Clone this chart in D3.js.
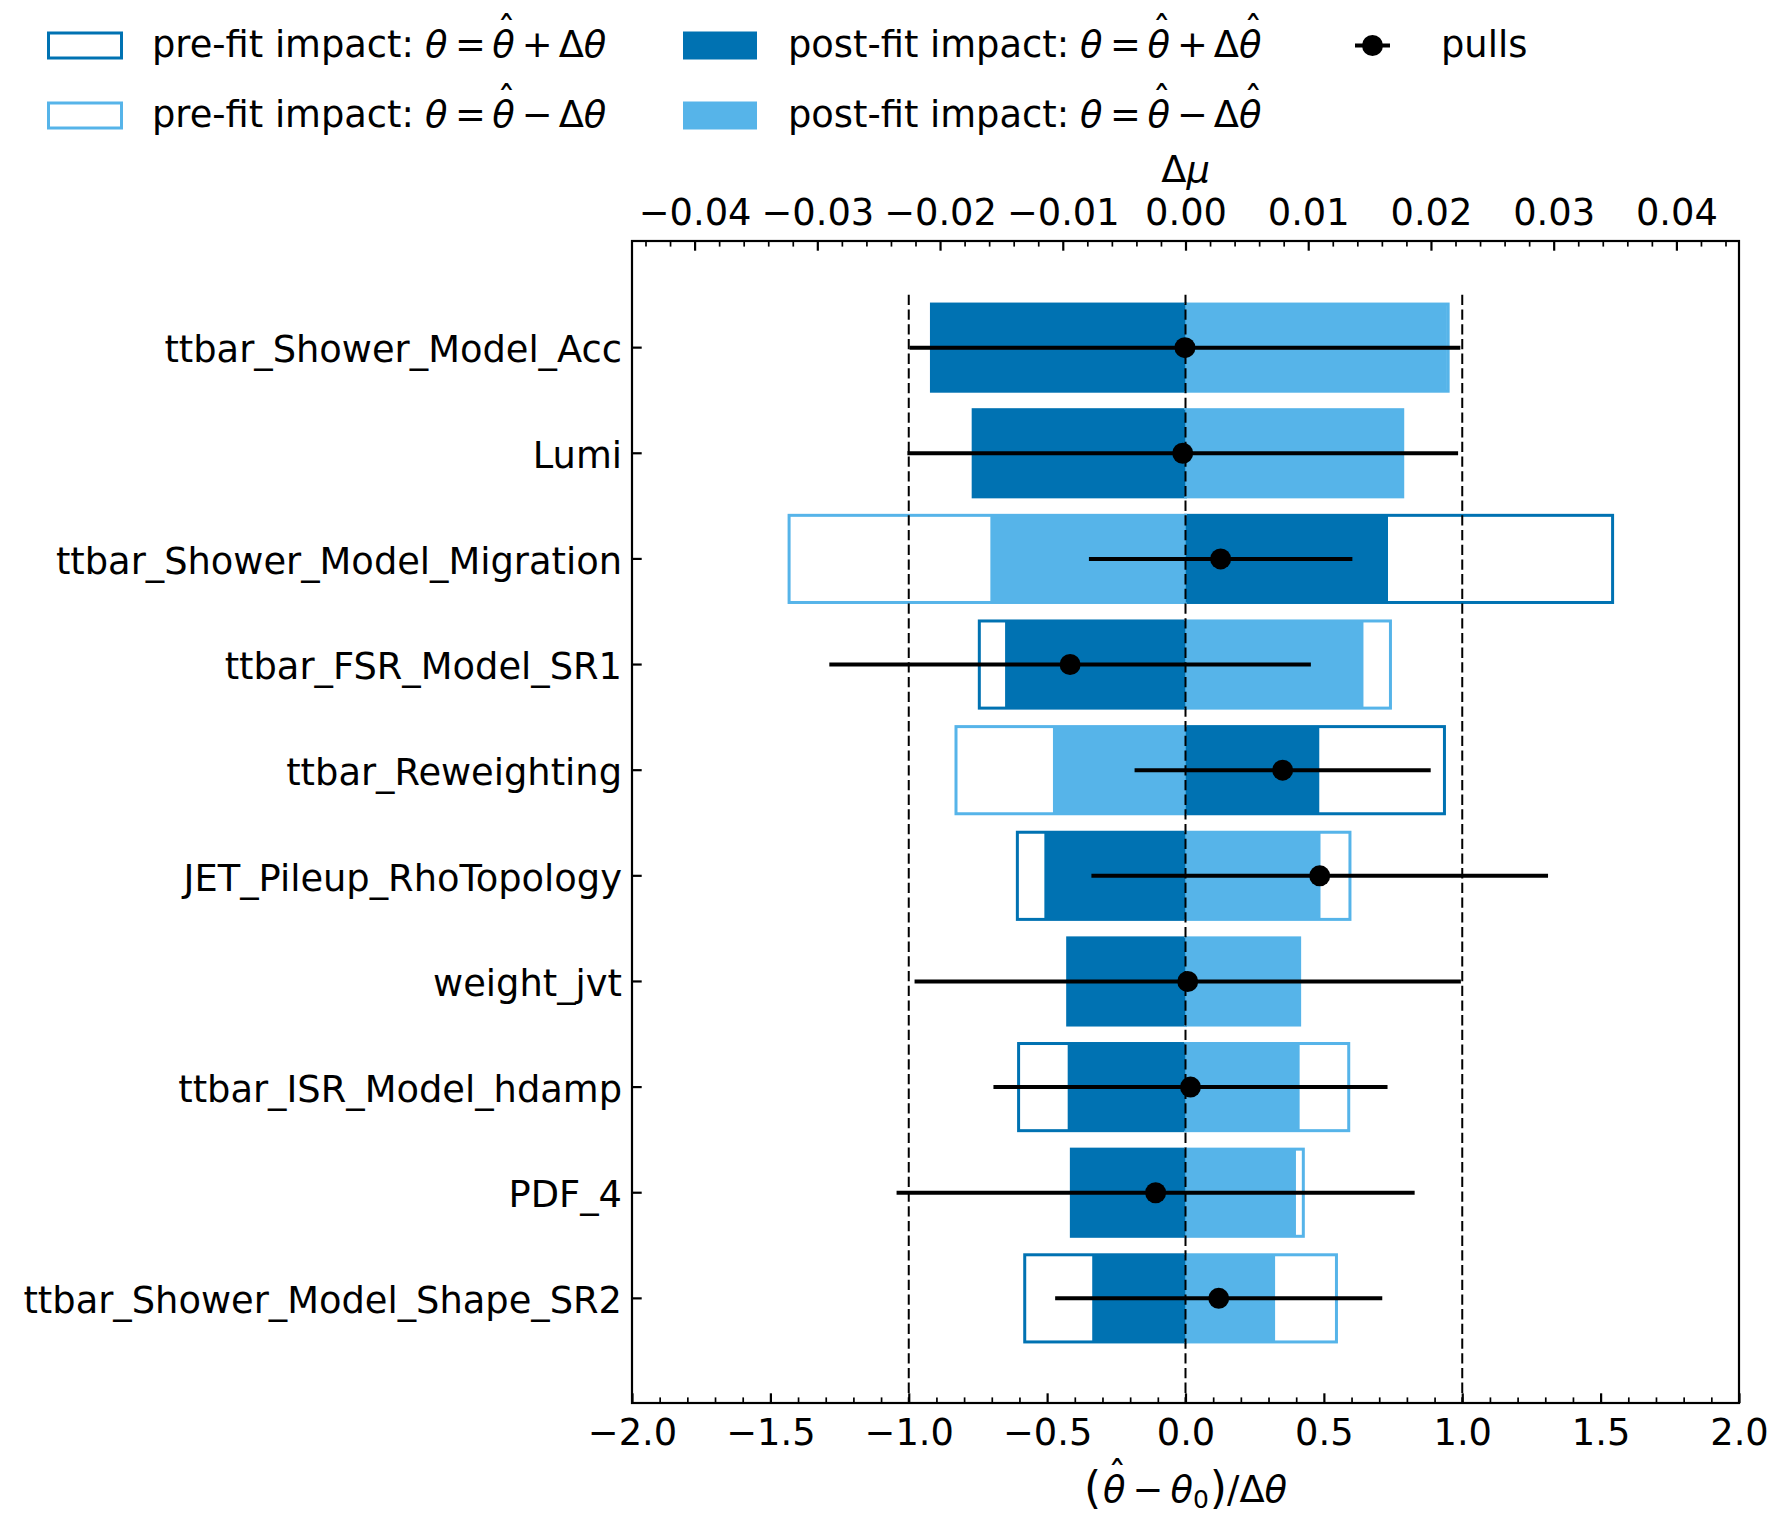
<!DOCTYPE html>
<html>
<head>
<meta charset="utf-8">
<script src="https://cdn.jsdelivr.net/npm/d3@7"></script>
<style>
  html, body { margin: 0; padding: 0; background: #fff; }
  svg { display: block; font-family: "DejaVu Sans", sans-serif; }
  text { fill: #000; }
</style>
</head>
<body>
<svg id="chart" width="1773" height="1513"></svg>
<script>
// Nuisance parameters, ranked top to bottom
const parameters = [
  "ttbar_Shower_Model_Acc",
  "Lumi",
  "ttbar_Shower_Model_Migration",
  "ttbar_FSR_Model_SR1",
  "ttbar_Reweighting",
  "JET_Pileup_RhoTopology",
  "weight_jvt",
  "ttbar_ISR_Model_hdamp",
  "PDF_4",
  "ttbar_Shower_Model_Shape_SR2"
];

// Pulls (theta_hat - theta_0)/dtheta and their post-fit constraints
const pulls      = [-0.002, -0.010, 0.127, -0.417, 0.351, 0.485, 0.008, 0.018, -0.108, 0.120];
const pullErrors = [0.995, 0.995, 0.476, 0.870, 0.535, 0.825, 0.987, 0.712, 0.936, 0.591];

// Impact on mu, pre-fit (theta = theta_hat +/- dtheta)
const prefitUp   = [-0.0207, -0.0173, 0.0348, -0.0168, 0.0211, -0.0137, -0.0096, -0.0136, -0.0093, -0.0131];
const prefitDown = [ 0.0214,  0.0177, -0.0323, 0.0167, -0.0187, 0.0134,  0.0093,  0.0133,  0.0096,  0.0123];

// Impact on mu, post-fit (theta = theta_hat +/- dtheta_hat)
const postfitUp   = [-0.0207, -0.0173, 0.0165, -0.0147, 0.0109, -0.0115, -0.0096, -0.0096, -0.0093, -0.0076];
const postfitDown = [ 0.0213,  0.0177, -0.0159, 0.0145, -0.0108, 0.0110,  0.0093,  0.0093,  0.0090,  0.0073];

const pullTicks = [-2.0, -1.5, -1.0, -0.5, 0.0, 0.5, 1.0, 1.5, 2.0];
const impactTicks = [-0.04, -0.03, -0.02, -0.01, 0.00, 0.01, 0.02, 0.03, 0.04];

const COLOR_UP = "#0072b2";
const COLOR_DOWN = "#56b4e9";
const FONT = 36.8;

const svg = d3.select("#chart");

const plot = { left: 632, right: 1739, top: 241, bottom: 1403 };

const x = d3.scaleLinear().domain([-2, 2]).range([plot.left, plot.right]);
const xImpact = d3.scaleLinear().domain([-0.0451, 0.0451]).range([plot.left, plot.right]);
const y = d3.scaleBand()
  .domain(parameters)
  .range([plot.top + 1, plot.bottom + 1])
  .paddingInner(0.175)
  .paddingOuter(0.5875);
const step = y.step();

const rows = parameters.map((name, i) => ({
  name,
  pull: pulls[i], err: pullErrors[i],
  preUp: prefitUp[i], preDown: prefitDown[i],
  postUp: postfitUp[i], postDown: postfitDown[i]
}));

function barX(v) { return Math.min(xImpact(0), xImpact(v)); }
function barW(v) { return Math.abs(xImpact(v) - xImpact(0)); }

// pre-fit impact outlines
const gPre = svg.append("g");
[["preUp", COLOR_UP], ["preDown", COLOR_DOWN]].forEach(([key, color]) => {
  gPre.selectAll(null).data(rows).enter().append("rect")
    .attr("x", d => barX(d[key]))
    .attr("y", d => y(d.name))
    .attr("width", d => barW(d[key]))
    .attr("height", y.bandwidth())
    .attr("fill", "none")
    .attr("stroke", color)
    .attr("stroke-width", 3);
});

// post-fit impact bars
const gPost = svg.append("g");
[["postUp", COLOR_UP], ["postDown", COLOR_DOWN]].forEach(([key, color]) => {
  gPost.selectAll(null).data(rows).enter().append("rect")
    .attr("x", d => barX(d[key]))
    .attr("y", d => y(d.name))
    .attr("width", d => barW(d[key]))
    .attr("height", y.bandwidth())
    .attr("fill", color);
});

// reference lines at pull = -1, 0, +1
const lineTop = y(parameters[0]) + y.bandwidth() / 2 - step / 2;
svg.append("g").selectAll("line").data([-1, 0, 1]).enter().append("line")
  .attr("x1", d => x(d)).attr("x2", d => x(d))
  .attr("y1", lineTop).attr("y2", plot.bottom)
  .attr("stroke", "#000")
  .attr("stroke-width", 2)
  .attr("stroke-dasharray", "10.3,4.4");

// pulls with error bars
const gPull = svg.append("g");
gPull.selectAll("line").data(rows).enter().append("line")
  .attr("x1", d => x(d.pull - d.err))
  .attr("x2", d => x(d.pull + d.err))
  .attr("y1", d => y(d.name) + y.bandwidth() / 2)
  .attr("y2", d => y(d.name) + y.bandwidth() / 2)
  .attr("stroke", "#000")
  .attr("stroke-width", 4);
gPull.selectAll("circle").data(rows).enter().append("circle")
  .attr("cx", d => x(d.pull))
  .attr("cy", d => y(d.name) + y.bandwidth() / 2)
  .attr("r", 10.5)
  .attr("fill", "#000");

// axes: ticks pointing inward
function styleAxis(g, width) {
  g.select(".domain").remove();
  g.selectAll(".tick line").attr("stroke", "#000").attr("stroke-width", width);
  g.selectAll(".tick text").attr("font-size", FONT).attr("fill", "#000")
    .attr("font-family", "DejaVu Sans");
}

const pullMinor = d3.range(-20, 21).map(v => v / 10).filter(v => Math.abs(v * 2 - Math.round(v * 2)) > 1e-6);
const impactMinor = d3.range(-22, 23).map(v => v / 500).filter(v => Math.abs(v * 100 - Math.round(v * 100)) > 1e-6);

const gBottom = svg.append("g").attr("transform", `translate(0,${plot.bottom})`)
  .call(d3.axisBottom(x).tickValues(pullTicks).tickFormat(d3.format(".1f"))
    .tickSizeInner(-9.7).tickSizeOuter(0).tickPadding(16));
styleAxis(gBottom, 2.2);
const gBottomMinor = svg.append("g").attr("transform", `translate(0,${plot.bottom})`)
  .call(d3.axisBottom(x).tickValues(pullMinor).tickFormat("")
    .tickSizeInner(-5.6).tickSizeOuter(0));
styleAxis(gBottomMinor, 1.7);

const gTop = svg.append("g").attr("transform", `translate(0,${plot.top})`)
  .call(d3.axisTop(xImpact).tickValues(impactTicks).tickFormat(d3.format(".2f"))
    .tickSizeInner(-9.7).tickSizeOuter(0).tickPadding(16));
styleAxis(gTop, 2.2);
const gTopMinor = svg.append("g").attr("transform", `translate(0,${plot.top})`)
  .call(d3.axisTop(xImpact).tickValues(impactMinor).tickFormat("")
    .tickSizeInner(-5.6).tickSizeOuter(0));
styleAxis(gTopMinor, 1.7);

const gLeft = svg.append("g").attr("transform", `translate(${plot.left},0)`)
  .call(d3.axisLeft(y).tickSizeInner(-9.7).tickSizeOuter(0).tickPadding(10));
styleAxis(gLeft, 2.2);
gLeft.selectAll(".tick text").attr("dy", "0.4em");

// frame
svg.append("rect")
  .attr("x", plot.left).attr("y", plot.top)
  .attr("width", plot.right - plot.left).attr("height", plot.bottom - plot.top)
  .attr("fill", "none").attr("stroke", "#000").attr("stroke-width", 2.2);

// math-style text built from pieces
function mathText(g, x0, baseline, parts) {
  let cx = x0;
  parts.forEach(p => {
    if (p.gap !== undefined) { cx += p.gap; return; }
    const size = p.size || FONT;
    const t = g.append("text")
      .attr("x", cx)
      .attr("y", baseline + (p.dy || 0))
      .attr("font-size", size)
      .attr("font-style", p.it ? "italic" : "normal")
      .text(p.t);
    const w = t.node().getComputedTextLength();
    if (p.hat) {
      g.append("text")
        .attr("x", cx + w / 2 + (p.it ? 3 : 0))
        .attr("y", baseline - 14)
        .attr("text-anchor", "middle")
        .attr("font-size", size)
        .text("\u02C6");
    }
    cx += w;
  });
  return cx - x0;
}

// axis titles
const topTitle = svg.append("g");
const wTop = mathText(topTitle, 0, 182, [{ t: "\u0394" }, { t: "\u03bc", it: true }]);
topTitle.attr("transform", `translate(${x(0) - wTop / 2},0)`);

const bottomTitle = svg.append("g");
const wBottom = mathText(bottomTitle, 0, 1502, [
  { t: "(", size: 44, dy: 1 },
  { gap: 2 },
  { t: "\u03b8", it: true, hat: true },
  { gap: 7 },
  { t: "\u2212" },
  { gap: 7 },
  { t: "\u03b8", it: true },
  { t: "0", size: 25, dy: 6 },
  { gap: 1 },
  { t: ")", size: 44, dy: 1 },
  { t: "/" },
  { t: "\u0394" },
  { t: "\u03b8", it: true }
]);
bottomTitle.attr("transform", `translate(${x(0) - wBottom / 2},0)`);

// legend
const legend = svg.append("g");
const legendRows = [45.5, 115.5];
const legendEntries = [
  { col: 0, row: 0, kind: "outline", color: COLOR_UP, label: "pre-fit impact:", op: "+", hatLast: false },
  { col: 0, row: 1, kind: "outline", color: COLOR_DOWN, label: "pre-fit impact:", op: "\u2212", hatLast: false },
  { col: 1, row: 0, kind: "fill", color: COLOR_UP, label: "post-fit impact:", op: "+", hatLast: true },
  { col: 1, row: 1, kind: "fill", color: COLOR_DOWN, label: "post-fit impact:", op: "\u2212", hatLast: true }
];
const handleX = [48.5, 683];
const textX = [152, 788];

legendEntries.forEach(e => {
  const cy = legendRows[e.row];
  if (e.kind === "outline") {
    legend.append("rect")
      .attr("x", handleX[e.col]).attr("y", cy - 12.5)
      .attr("width", 73).attr("height", 25)
      .attr("fill", "#fff").attr("stroke", e.color).attr("stroke-width", 3);
  } else {
    legend.append("rect")
      .attr("x", handleX[e.col]).attr("y", cy - 14)
      .attr("width", 74).attr("height", 28)
      .attr("fill", e.color);
  }
  mathText(legend, textX[e.col], cy + 11.5, [
    { t: e.label },
    { gap: 11 },
    { t: "\u03b8", it: true },
    { gap: 7.5 },
    { t: "=" },
    { gap: 6.5 },
    { t: "\u03b8", it: true, hat: true },
    { gap: 7 },
    { t: e.op },
    { gap: 6 },
    { t: "\u0394" },
    { t: "\u03b8", it: true, hat: e.hatLast }
  ]);
});

// pulls legend entry
legend.append("line")
  .attr("x1", 1355).attr("x2", 1390)
  .attr("y1", legendRows[0]).attr("y2", legendRows[0])
  .attr("stroke", "#000").attr("stroke-width", 4);
legend.append("circle")
  .attr("cx", 1372.5).attr("cy", legendRows[0]).attr("r", 10.5).attr("fill", "#000");
legend.append("text")
  .attr("x", 1441).attr("y", legendRows[0] + 11.5)
  .attr("font-size", FONT)
  .text("pulls");
</script>
</body>
</html>
